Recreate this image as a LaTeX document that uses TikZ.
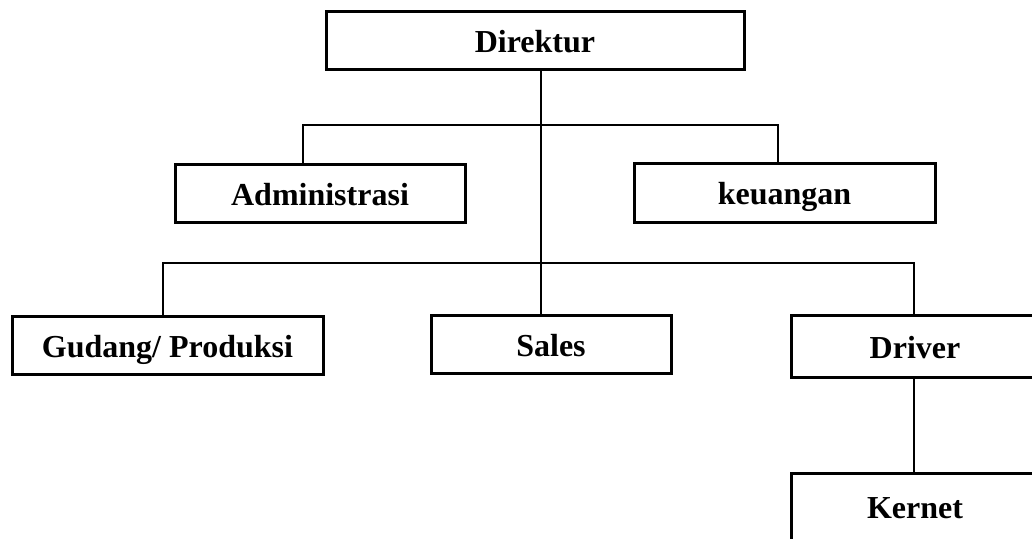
\documentclass[tikz,border=0pt]{standalone}
\usepackage{fontspec}
\setmainfont{Liberation Serif}
\begin{document}
\begin{tikzpicture}[x=1pt,y=-1pt,
  box/.style={draw=black, line width=3pt, rectangle, inner sep=0pt,
    font=\fontsize{32}{37}\selectfont\bfseries, text height=24pt, text depth=0pt},
  conn/.style={draw=black, line width=2pt}]
\useasboundingbox (0,0) rectangle (1032,538);
\clip (0,0) rectangle (1032,538);
\node[box, minimum width=418pt, minimum height=58pt] (dir) at (535,40) {Direktur};
\node[box, minimum width=290pt, minimum height=58pt] (adm) at (320,193) {Administrasi};
\node[box, minimum width=301pt, minimum height=59pt] (keu) at (784.5,192.5) {keuangan};
\node[box, minimum width=311pt, minimum height=58pt] (gud) at (167.5,345) {Gudang/ Produksi};
\node[box, minimum width=240pt, minimum height=58pt] (sal) at (551,344) {Sales};
\node[box, minimum width=248pt, minimum height=62pt] (drv) at (915,346) {Driver};
\node[box, minimum width=248pt, minimum height=67pt] (ker) at (915,506.5) {Kernet};
\coordinate (j1) at (541,125);
\coordinate (aL) at (303,125);
\coordinate (aR) at (778,125);
\coordinate (bL) at (163,263);
\coordinate (bR) at (914,263);
\draw[conn] (dir.south -| j1) -- (sal.north -| j1);
\draw[conn] (adm.north -| aL) -- (aL) -- (aR) -- (keu.north -| aR);
\draw[conn] (gud.north -| bL) -- (bL) -- (bR) -- (drv.north -| bR);
\draw[conn] (drv.south -| bR) -- (ker.north -| bR);
\end{tikzpicture}
\end{document}
